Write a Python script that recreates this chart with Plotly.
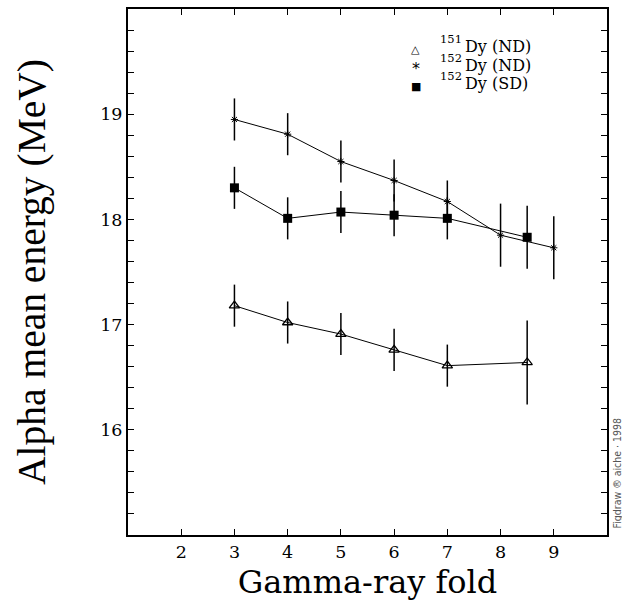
import plotly.graph_objects as go

# Gamma-ray fold (x) and alpha mean energies (MeV) with symmetric errors
fold_151nd = [3, 4, 5, 6, 7, 8.5]
energy_151nd = [17.18, 17.02, 16.91, 16.76, 16.61, 16.64]
err_151nd = [0.2, 0.2, 0.2, 0.2, 0.2, 0.4]

fold_152nd = [3, 4, 5, 6, 7, 8, 9]
energy_152nd = [18.95, 18.81, 18.55, 18.37, 18.17, 17.85, 17.73]
err_152nd = [0.2, 0.2, 0.2, 0.2, 0.2, 0.3, 0.3]

fold_152sd = [3, 4, 5, 6, 7, 8.5]
energy_152sd = [18.30, 18.01, 18.07, 18.04, 18.01, 17.83]
err_152sd = [0.2, 0.2, 0.2, 0.2, 0.2, 0.3]

legend_mass = ["151", "152", "152"]
legend_names = ["Dy (ND)", "Dy (ND)", "Dy (SD)"]
legend_glyphs = ["\u25b3", "*", "\u25a0"]

x_ticks = [2, 3, 4, 5, 6, 7, 8, 9]
y_ticks = [16, 17, 18, 19]

TIMES = "Liberation Serif, Times New Roman, serif"
WIDE_SERIF = "DejaVu Serif, serif"

series = [
    (fold_151nd, energy_151nd, err_151nd, "triangle-up-open", 9, 1.3),
    (fold_152nd, energy_152nd, err_152nd, "asterisk-open", 6, 1.0),
    (fold_152sd, energy_152sd, err_152sd, "square", 9, 0),
]

fig = go.Figure()
for xs, ys, es, sym, size, lw in series:
    fig.add_trace(go.Scatter(
        x=xs, y=ys, mode="lines+markers",
        line=dict(color="black", width=1),
        marker=dict(symbol=sym, size=size, color="black",
                    line=dict(color="black", width=lw)),
        error_y=dict(type="data", array=es, visible=True,
                     color="black", thickness=1.5, width=0),
        showlegend=False,
    ))

axis_common = dict(
    showline=True, linecolor="black", linewidth=2, mirror="ticks",
    ticks="inside", ticklen=6, tickwidth=1.3, tickcolor="black",
    showgrid=False, zeroline=False,
    tickfont=dict(family=WIDE_SERIF, size=17.5, color="black"),
)

fig.update_xaxes(
    range=[1, 10], tickvals=x_ticks, ticktext=[str(v) for v in x_ticks],
    title=dict(text="Gamma-ray fold", font=dict(family=WIDE_SERIF, size=32, color="black"),
               standoff=10),
    **axis_common,
)
fig.update_yaxes(
    range=[15, 20], tickvals=y_ticks, ticktext=[str(v) for v in y_ticks],
    minor=dict(dtick=0.2, tick0=15, ticks="inside", ticklen=6, tickwidth=1.3,
               tickcolor="black", showgrid=False),
    title=dict(text="Alpha mean energy (MeV)", font=dict(family=TIMES, size=39.5, color="black"),
               standoff=42),
    **axis_common,
)

# key rows in the upper right of the plot area: symbol, mass number, name
annotations = []
row_y = [0.9283, 0.8932, 0.8581]
for glyph, mass, name, yy in zip(legend_glyphs, legend_mass, legend_names, row_y):
    annotations.append(dict(
        text=glyph, xref="paper", yref="paper", x=0.601, y=yy, yshift=-3,
        xanchor="center", yanchor="middle", showarrow=False,
        font=dict(family="DejaVu Sans, sans-serif",
                  size=16 if glyph == "*" else 11, color="black"),
    ))
    annotations.append(dict(
        text=mass, xref="paper", yref="paper", x=0.647, y=yy, yshift=7.5,
        xanchor="left", yanchor="middle", showarrow=False,
        font=dict(family=WIDE_SERIF, size=11.5, color="black"),
    ))
    annotations.append(dict(
        text=name, xref="paper", yref="paper", x=0.700, y=yy,
        xanchor="left", yanchor="middle", showarrow=False,
        font=dict(family=WIDE_SERIF, size=16, color="black"),
    ))

annotations.append(dict(
    text="Figdraw ® aiche · 1998", xref="paper", yref="paper",
    x=1.0, y=0.0, xanchor="left", yanchor="bottom", xshift=1, yshift=4,
    textangle=-90, showarrow=False,
    font=dict(family="Liberation Sans Narrow, DejaVu Sans Condensed, sans-serif",
              size=10.5, color="#555555"),
))

fig.update_layout(
    width=622, height=601,
    margin=dict(l=128, r=15, t=7, b=64),
    paper_bgcolor="white", plot_bgcolor="white",
    showlegend=False,
    annotations=annotations,
)

fig.write_html("out.html")
